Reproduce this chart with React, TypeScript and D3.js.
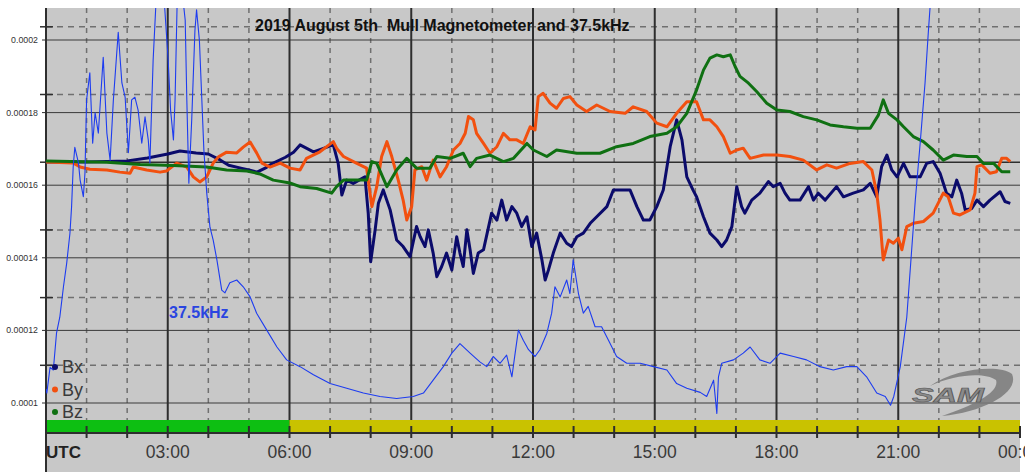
import React from "react";
import * as d3 from "d3";

// Mull magnetometer, 5 Aug 2019. Field values in units of 1e-6 (axis shows 0.00016 etc.)
const bxData: [number, number][] = [
  [0, 166.4], [1, 166.4], [2, 166.7], [2.5, 167.5], [3.0, 168.6], [3.3, 169.4], [3.7, 168.9], [4.0, 168.6],
  [4.3, 166.9], [4.5, 165.5], [4.8, 164.7], [5.0, 164.2], [5.2, 163.6], [5.4, 164.7], [5.6, 166.1], [5.9, 167.7],
  [6.1, 169.1], [6.26, 171.1], [6.59, 169.2], [7.08, 171.1], [7.2, 166.0], [7.29, 157.3], [7.41, 161.4], [7.57, 160.5],
  [7.86, 162.3], [7.94, 152.3], [8.0, 138.9], [8.11, 147.7], [8.19, 155.0], [8.31, 158.7], [8.48, 153.2], [8.64, 144.9],
  [8.8, 143.1], [8.97, 140.3], [9.13, 148.6], [9.22, 145.8], [9.34, 143.1], [9.42, 147.7], [9.54, 141.3], [9.63, 134.8],
  [9.75, 137.6], [9.87, 141.3], [10.0, 136.6], [10.12, 145.8], [10.2, 141.3], [10.28, 137.6], [10.37, 147.7], [10.45, 142.2],
  [10.53, 135.7], [10.65, 141.3], [10.78, 142.2], [10.98, 152.3], [11.11, 150.4], [11.23, 155.9], [11.35, 150.4], [11.48, 154.1],
  [11.6, 152.3], [11.72, 148.6], [11.85, 151.3], [11.97, 143.1], [12.09, 146.8], [12.22, 139.4], [12.3, 133.9], [12.38, 136.6],
  [12.5, 141.3], [12.67, 146.8], [12.83, 144.0], [12.95, 143.1], [13.08, 145.8], [13.24, 146.8], [13.41, 149.5], [13.57, 151.3],
  [13.82, 154.1], [13.98, 158.7], [14.14, 158.7], [14.39, 158.7], [14.56, 154.1], [14.72, 150.4], [14.88, 150.4], [15.05, 154.1],
  [15.21, 158.7], [15.38, 170.6], [15.54, 178.0], [15.67, 172.5], [15.79, 162.3], [15.95, 158.5], [16.03, 156.8], [16.2, 151.3],
  [16.36, 146.8], [16.53, 144.9], [16.65, 143.1], [16.77, 144.9], [16.9, 148.6], [17.02, 159.6], [17.14, 154.1], [17.22, 152.3],
  [17.39, 155.9], [17.59, 157.8], [17.8, 161.0], [17.92, 159.6], [18.09, 160.5], [18.21, 157.8], [18.33, 155.9], [18.58, 155.9],
  [18.79, 159.6], [18.91, 155.9], [19.03, 157.8], [19.2, 155.9], [19.48, 159.6], [19.65, 156.8], [19.89, 157.8], [20.14, 158.7],
  [20.31, 160.5], [20.47, 156.8], [20.59, 165.1], [20.72, 168.3], [20.84, 164.2], [20.97, 162.3], [21.13, 166.0], [21.29, 162.3],
  [21.54, 162.3], [21.7, 166.0], [21.86, 166.5], [22.03, 163.3], [22.19, 157.8], [22.32, 156.8], [22.44, 161.4], [22.56, 157.8],
  [22.65, 153.2], [22.81, 153.6], [22.94, 155.9], [23.1, 154.1], [23.26, 155.9], [23.51, 158.2], [23.63, 155.5], [23.76, 155.0],
];

const byData: [number, number][] = [
  [0, 166.4], [0.67, 166.1], [0.84, 165.0], [1.08, 164.4], [1.5, 164.2], [1.82, 163.6], [2.07, 163.3], [2.15, 165.0],
  [2.48, 164.2], [2.81, 163.6], [2.97, 163.9], [3.22, 166.1], [3.47, 165.0], [3.63, 162.3], [3.79, 160.9], [3.96, 162.3],
  [4.12, 166.1], [4.25, 167.8], [4.45, 169.1], [4.7, 168.9], [4.86, 170.5], [5.03, 171.9], [5.19, 168.9], [5.32, 166.1],
  [5.52, 165.0], [5.77, 166.1], [6.01, 164.7], [6.26, 164.2], [6.42, 167.4], [6.75, 169.2], [7.08, 172.0], [7.16, 170.2],
  [7.33, 167.9], [7.66, 166.0], [7.9, 164.7], [8.03, 154.1], [8.15, 159.6], [8.27, 167.9], [8.4, 172.0], [8.52, 167.9],
  [8.68, 161.4], [8.8, 155.9], [8.89, 150.4], [9.01, 154.1], [9.09, 164.2], [9.26, 165.1], [9.38, 161.4], [9.54, 166.9],
  [9.71, 162.3], [9.87, 165.1], [10.04, 169.7], [10.2, 171.5], [10.33, 174.3], [10.41, 178.9], [10.53, 178.0], [10.61, 174.3],
  [10.78, 171.5], [10.94, 168.8], [11.11, 170.6], [11.27, 174.3], [11.43, 172.5], [11.6, 172.5], [11.76, 171.5], [11.93, 176.1],
  [12.05, 175.2], [12.13, 184.4], [12.25, 185.3], [12.42, 182.6], [12.58, 181.2], [12.75, 183.9], [12.91, 184.4], [13.08, 182.1],
  [13.32, 180.3], [13.57, 182.1], [13.9, 180.3], [14.27, 179.8], [14.47, 181.6], [14.8, 180.3], [15.05, 177.1], [15.3, 176.1],
  [15.54, 179.8], [15.79, 183.0], [16.03, 183.0], [16.2, 178.0], [16.36, 178.0], [16.53, 176.1], [16.69, 173.4], [16.86, 168.8],
  [17.02, 169.7], [17.18, 170.2], [17.35, 167.4], [17.68, 168.3], [18.01, 168.3], [18.33, 167.9], [18.66, 166.9], [18.99, 164.2],
  [19.24, 165.6], [19.48, 164.7], [19.81, 166.0], [20.14, 166.5], [20.35, 164.2], [20.47, 157.8], [20.55, 150.4], [20.63, 139.4],
  [20.76, 144.9], [20.88, 144.0], [21.0, 145.4], [21.09, 142.2], [21.21, 148.6], [21.37, 149.5], [21.62, 150.0], [21.86, 152.3],
  [22.11, 157.8], [22.23, 156.8], [22.36, 152.3], [22.52, 151.8], [22.77, 153.2], [22.89, 157.8], [22.94, 165.1], [23.06, 165.6],
  [23.26, 163.3], [23.42, 163.7], [23.55, 167.4], [23.67, 167.4], [23.76, 166.5],
];

const bzData: [number, number][] = [
  [0, 166.7], [1.5, 166.3], [2.32, 165.7], [3.14, 165.4], [3.96, 165.0], [4.45, 164.2], [4.95, 163.9], [5.27, 163.1],
  [5.6, 161.4], [6.01, 160.6], [6.26, 159.6], [6.67, 159.1], [7.04, 157.8], [7.16, 159.6], [7.33, 161.4], [7.9, 161.4],
  [8.03, 166.5], [8.15, 166.0], [8.4, 159.6], [8.64, 164.2], [8.89, 167.4], [9.13, 164.7], [9.46, 164.7], [9.63, 167.9],
  [9.96, 167.4], [10.28, 168.8], [10.45, 165.1], [10.61, 167.4], [10.94, 168.3], [11.27, 166.5], [11.52, 167.4], [11.85, 171.5],
  [12.01, 169.7], [12.34, 167.9], [12.58, 169.7], [13.08, 168.8], [13.65, 168.8], [14.06, 170.6], [14.47, 171.5], [14.88, 173.4],
  [15.3, 174.3], [15.54, 176.1], [15.79, 179.8], [16.03, 186.2], [16.2, 191.7], [16.36, 195.0], [16.53, 195.9], [16.69, 195.4],
  [16.86, 195.9], [16.98, 192.7], [17.1, 190.0], [17.31, 188.1], [17.51, 185.8], [17.76, 182.6], [18.01, 180.7], [18.33, 180.3],
  [18.66, 178.9], [18.99, 178.0], [19.32, 176.6], [19.65, 176.1], [19.98, 175.7], [20.31, 175.7], [20.51, 179.3], [20.63, 183.5],
  [20.76, 179.8], [20.97, 178.0], [21.13, 176.1], [21.37, 173.4], [21.62, 172.0], [21.86, 169.7], [22.11, 166.9], [22.36, 168.3],
  [22.69, 167.9], [22.94, 167.9], [23.1, 166.0], [23.35, 166.0], [23.55, 163.7], [23.76, 163.7],
];

// 37.5kHz signal level, arbitrary units on its own (unlabelled) scale
const vlfData: [number, number][] = [
  [0, 6.5], [0.02, 5.9], [0.1, 9.7], [0.18, 9.3], [0.26, 14.8], [0.34, 17.1], [0.43, 21.6], [0.51, 25.1],
  [0.59, 29.5], [0.63, 33.4], [0.67, 39.3], [0.71, 42.2], [0.8, 39.9], [0.84, 37.4], [0.92, 34.9], [0.96, 38.4],
  [1.0, 49.2], [1.08, 53.2], [1.15, 42.8], [1.21, 47.3], [1.29, 44.3], [1.41, 55.5], [1.5, 44.3], [1.58, 40.3],
  [1.66, 49.2], [1.78, 59.2], [1.87, 51.7], [1.95, 49.6], [2.03, 41.4], [2.11, 49.2], [2.19, 49.6], [2.27, 47.7],
  [2.36, 42.8], [2.44, 46.7], [2.52, 43.3], [2.56, 39.9], [2.64, 55.1], [2.73, 66], [2.89, 66], [3.01, 55.1],
  [3.07, 47.7], [3.14, 43.3], [3.18, 49.2], [3.24, 66], [3.34, 66], [3.43, 61], [3.47, 49.2], [3.52, 36.9],
  [3.59, 46.2], [3.67, 59.5], [3.71, 62.5], [3.78, 58], [3.84, 49.2], [3.89, 41.8], [3.96, 35.5], [4.04, 30.4],
  [4.12, 28.5], [4.21, 25.6], [4.33, 21.1], [4.41, 20.7], [4.53, 22.2], [4.7, 22.6], [4.86, 21.6], [5.03, 20.1],
  [5.19, 17.7], [5.44, 15.2], [5.69, 12.7], [5.93, 10.8], [6.26, 9.8], [6.59, 8.6], [7.0, 7.3], [7.41, 6.6],
  [7.82, 5.9], [8.23, 5.4], [8.64, 5.1], [9.05, 5.4], [9.3, 5.9], [9.54, 7.8], [9.79, 9.8], [10.0, 11.8],
  [10.2, 13.2], [10.45, 11.8], [10.69, 10.5], [10.86, 9.8], [11.02, 11.3], [11.19, 10.3], [11.35, 11.5], [11.48, 8.3],
  [11.56, 11.8], [11.64, 15.2], [11.76, 13.7], [11.89, 12.3], [12.05, 11.3], [12.17, 12.3], [12.34, 14.7], [12.46, 17.7],
  [12.54, 21.6], [12.67, 20.1], [12.83, 22.6], [12.91, 20.6], [12.99, 25.6], [13.12, 20.6], [13.24, 17.7], [13.36, 18.7],
  [13.53, 15.7], [13.69, 15.7], [13.86, 13.7], [14.06, 11.3], [14.31, 10.3], [14.64, 10.3], [14.97, 9.8], [15.3, 9.3],
  [15.54, 7.3], [15.79, 6.6], [16.12, 6.0], [16.28, 5.4], [16.45, 7.8], [16.53, 2.9], [16.57, 8.3], [16.65, 10.3],
  [16.94, 10.8], [17.18, 11.8], [17.35, 12.7], [17.59, 10.8], [17.84, 10.3], [18.09, 11.8], [18.42, 11.3], [18.74, 10.8],
  [19.07, 9.8], [19.4, 9.3], [19.73, 9.8], [19.98, 9.8], [20.22, 8.3], [20.47, 5.9], [20.68, 5.4], [20.81, 4.1],
  [20.89, 5.4], [21.05, 9.8], [21.21, 17.1], [21.33, 27.0], [21.42, 34.4], [21.54, 42.8], [21.66, 51.7], [21.74, 59.1],
  [21.82, 66],
];

const timeTicks = [0, 3, 6, 9, 12, 15, 18, 21, 24];
const timeLabels = ["UTC", "03:00", "06:00", "09:00", "12:00", "15:00", "18:00", "21:00", "00:00"];
const magTicks = [80, 100, 120, 140, 160, 180, 200];
const magLabels = ["0.00008", "0.0001", "0.00012", "0.00014", "0.00016", "0.00018", "0.0002"];
const vlfGrid = [10, 20, 30, 40, 50, 60];
const vlfReference = 40;
const dayBar: [number, number][] = [[0, 6], [6, 24]];
const dayBarColors = ["#0dbf12", "#c9c200"];

const seriesNames = ["Bx", "By", "Bz"];
const seriesColors = ["#0b0b6b", "#f2500f", "#0f7012"];

export default function App() {
  const left = 46, right = 1020, top = 8, axisY = 433, H = 472;

  const x = d3.scaleLinear().domain([0, 24]).range([left, right]);
  const yMag = d3.scaleLinear().domain([100, 200]).range([403, 40]);
  const yVlf = d3.scaleLinear().domain([0, 10]).range([axisY, axisY - 67.7]);

  const magLine = d3.line<[number, number]>().x(d => x(d[0])).y(d => yMag(d[1]));
  const vlfLine = d3.line<[number, number]>().x(d => x(d[0])).y(d => yVlf(d[1]));

  const hours = d3.range(0, 25);
  const font = "'Liberation Sans', Arial, sans-serif";

  return (
    <svg width={1025} height={472} style={{ position: "absolute", left: 0, top: 0, background: "#fff" }} fontFamily={font}>
      <defs>
        <clipPath id="plotClip">
          <rect x={left} y={top} width={right - left} height={axisY - top} />
        </clipPath>
      </defs>
      <rect x={left} y={top} width={right - left} height={H - top} fill="#c8c8c8" />

      {/* hourly dashed verticals, solid every 3 h */}
      {hours.filter(h => h % 3 !== 0).map(h => (
        <line key={"vd" + h} x1={x(h)} x2={x(h)} y1={top} y2={axisY} stroke="#707070" strokeWidth={1.5} strokeDasharray="5,5" />
      ))}
      {/* secondary scale dashed horizontals */}
      {vlfGrid.filter(v => v !== vlfReference).map(v => (
        <line key={"hd" + v} x1={left} x2={right} y1={yVlf(v)} y2={yVlf(v)} stroke="#707070" strokeWidth={1.5} strokeDasharray="6,5" />
      ))}
      {magTicks.map(v => (
        <line key={"hs" + v} x1={left} x2={right} y1={yMag(v)} y2={yMag(v)} stroke="#3a3a3a" strokeWidth={1} />
      ))}
      {timeTicks.slice(1, -1).map(h => (
        <line key={"vs" + h} x1={x(h)} x2={x(h)} y1={top} y2={axisY} stroke="#2e2e2e" strokeWidth={2} />
      ))}
      <line x1={left} x2={right} y1={yVlf(vlfReference)} y2={yVlf(vlfReference)} stroke="#2e2e2e" strokeWidth={1.5} />

      {/* day / night bar */}
      {dayBar.map((d, i) => (
        <rect key={"bar" + i} x={x(d[0])} y={420} width={x(d[1]) - x(d[0])} height={12} fill={dayBarColors[i]} />
      ))}

      {/* axes */}
      <line x1={left} x2={right} y1={axisY} y2={axisY} stroke="#2e2e2e" strokeWidth={2} />
      <line x1={left} x2={left} y1={top} y2={H} stroke="#2e2e2e" strokeWidth={2} />
      {hours.map(h => (
        <line key={"xt" + h} x1={x(h)} x2={x(h)} y1={426} y2={438} stroke="#2e2e2e" strokeWidth={2} />
      ))}
      {vlfGrid.map(v => (
        <line key={"yt" + v} x1={40} x2={53} y1={yVlf(v)} y2={yVlf(v)} stroke="#2e2e2e" strokeWidth={1.5} />
      ))}
      {magTicks.map(v => (
        <line key={"ymt" + v} x1={42} x2={left} y1={yMag(v)} y2={yMag(v)} stroke="#2e2e2e" strokeWidth={1} />
      ))}

      {/* y labels */}
      {magTicks.map((v, i) => (
        <text key={"yl" + v} x={38} y={yMag(v)} dy="0.35em" textAnchor="end" fontSize={8.8} fill="#333">{magLabels[i]}</text>
      ))}
      {/* x labels */}
      {timeTicks.map((h, i) => (
        i === 0
          ? <text key="xl0" x={x(h)} y={458} fontSize={17} fontWeight="bold" fill="#222">{timeLabels[i]}</text>
          : <text key={"xl" + h} x={x(h)} y={458} textAnchor="middle" fontSize={17.5} fill="#3a3a3a">{timeLabels[i]}</text>
      ))}

      {/* series */}
      <g clipPath="url(#plotClip)" fill="none" strokeLinejoin="round">
        <path d={magLine(bxData) || ""} stroke={seriesColors[0]} strokeWidth={3} />
        <path d={magLine(byData) || ""} stroke={seriesColors[1]} strokeWidth={3} />
        <path d={magLine(bzData) || ""} stroke={seriesColors[2]} strokeWidth={3} />
        <path d={vlfLine(vlfData) || ""} stroke="#1d3cf0" strokeWidth={1.1} />
      </g>

      {/* title and labels */}
      <text x={255} y={31} fontSize={16} fontWeight="bold" fill="#111" style={{ whiteSpace: "pre" }}>2019 August 5th  Mull Magnetometer and 37.5kHz</text>
      <text x={169} y={318} fontSize={16} fontWeight="bold" fill="#2a45e0">37.5kHz</text>

      {/* legend */}
      {seriesNames.map((n, i) => (
        <g key={n}>
          <circle cx={55} cy={367 + i * 22.5} r={3} fill={seriesColors[i]} />
          <text x={62} y={367 + i * 22.5} dy="0.36em" fontSize={18} fill="#3a3a3a">{n}</text>
        </g>
      ))}

      {/* SAM logo */}
      <g>
        <path d="M930,386 C955,368 1000,364 1012,374 C1020,392 985,412 942,416 C975,405 1000,392 996,380 C985,372 955,374 930,386 Z" fill="#7a7a7a" opacity={0.85} />
        <text x={912} y={402} fontSize={20} fontStyle="italic" fontWeight="bold" fill="#8a8a8a" stroke="#555" strokeWidth={0.6}
          textLength={72} lengthAdjust="spacingAndGlyphs">SAM</text>
      </g>
    </svg>
  );
}
